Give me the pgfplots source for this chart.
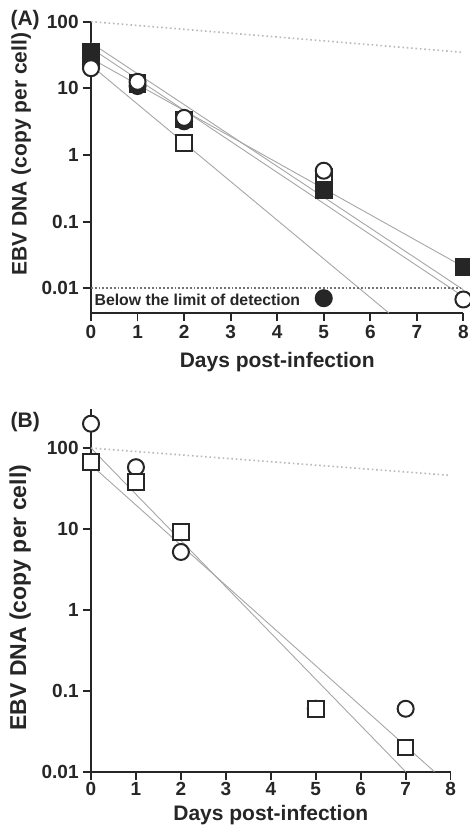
\documentclass[border=0pt]{standalone}
\usepackage{pgfplots}
\pgfplotsset{compat=1.18}
\usepackage{fontspec}
\setmainfont{Liberation Sans}

\pgfplotsset{
  fitl/.style={gray!70, line width=0.45pt, no marks},
  dotl/.style={gray!55, line width=0.8pt, dash pattern=on 0.8pt off 1.4pt, no marks},
  lodl/.style={black!55, line width=1pt, dash pattern=on 0.9pt off 1pt, no marks},
  osq/.style={only marks, mark=square*, mark size=3.9pt, mark options={draw=black!85, fill=white, line width=1pt}},
  fsq/.style={only marks, mark=square*, mark size=3.9pt, mark options={draw=black!85, fill=black!85, line width=1pt}},
  ocir/.style={only marks, mark=*, mark size=4.0pt, mark options={draw=black!85, fill=white, line width=1pt}},
  fcir/.style={only marks, mark=*, mark size=4.0pt, mark options={draw=black!85, fill=black!85, line width=1pt}},
}

\begin{document}
\begin{tikzpicture}[x=1pt,y=1pt]
\path[use as bounding box] (0,0) rectangle (235,-412.5);

% panel A
\begin{axis}[ymode=log, scale only axis, clip mode=individual,
  at={(45.5pt,-156.5pt)}, anchor=south west,
  width=186.2pt, height=145.7pt, ymin=0.00426, ymax=100,
  axis x line*=bottom, axis y line*=left,
  axis line style={line width=1.1pt, black!85},
  tick style={line width=0.9pt, black!85},
  tick align=outside, major tick length=4.2pt,
  xmin=0, xmax=8, xtick={0,...,8}, xticklabels={0,1,2,3,4,5,6,7,8},
  ytick={0.01,0.1,1,10,100}, yticklabels={0.01,0.1,1,10,100},
  yminorticks=false,
  tick label style={font=\fontsize{9.5}{10}\selectfont\bfseries, text=black!85},
  yticklabel style={inner sep=1.8pt},
  xticklabel style={inner sep=1.8pt},
  xlabel style={font=\fontsize{10.5}{12}\selectfont\bfseries, text=black!85,
    at={(axis description cs:0.5,0)}, anchor=base, yshift=-27pt},
  ylabel style={font=\fontsize{10.5}{12}\selectfont\bfseries, text=black!85, at={(ticklabel cs:0.545)}},
  xlabel={Days post-infection},
  ylabel={EBV DNA (copy per cell)}]
\addplot[fitl] coordinates {(0,28) (8,0.021)};
\addplot[fitl] coordinates {(0,48) (8,0.0095)};
\addplot[fitl] coordinates {(0,40) (8,0.0075)};
\addplot[fitl] coordinates {(0,22) (6.4,0.00426)};
\addplot[dotl] coordinates {(0,100) (8,34.5)};
\addplot[lodl] coordinates {(0,0.01) (8,0.01)};
\addplot[osq] coordinates {(0,28) (1,12) (2,1.5) (5,0.47)};
\addplot[fsq] coordinates {(0,35) (1,11.5) (2,3.4) (5,0.30) (8,0.021)};
\addplot[fcir] coordinates {(0,23) (1,10.8) (2,3.2) (5,0.0071)};
\addplot[ocir] coordinates {(0,20) (1,12.5) (2,3.6) (5,0.58) (8,0.0068)};
\node[anchor=west, font=\fontsize{7.9}{9}\selectfont\bfseries, text=black!85, inner sep=0pt]
  at (axis cs:0.07,0.0068) {Below the limit of detection};
\node[font=\fontsize{10.5}{11}\selectfont\bfseries, text=black!85] at (rel axis cs:-0.177,1.005) {(A)};
\end{axis}

% panel B
\begin{axis}[ymode=log, scale only axis,
  at={(45.5pt,-385.85pt)}, anchor=south west,
  width=179.8pt, height=174pt, ymin=0.01, ymax=200, clip=false,
  axis x line*=bottom, axis y line*=left,
  axis line style={line width=1.1pt, black!85},
  tick style={line width=0.9pt, black!85},
  tick align=outside, major tick length=4.2pt,
  xmin=0, xmax=8, xtick={0,...,8}, xticklabels={0,1,2,3,4,5,6,7,8},
  ytick={0.01,0.1,1,10,100}, yticklabels={0.01,0.1,1,10,100},
  yminorticks=false,
  tick label style={font=\fontsize{9.5}{10}\selectfont\bfseries, text=black!85},
  yticklabel style={inner sep=1.8pt},
  xticklabel style={inner sep=1pt},
  xlabel style={font=\fontsize{10.5}{12}\selectfont\bfseries, text=black!85,
    at={(axis description cs:0.5,0)}, anchor=base, yshift=-24.5pt},
  ylabel style={font=\fontsize{11.5}{12}\selectfont\bfseries, text=black!85},
  xlabel={Days post-infection},
  ylabel={EBV DNA (copy per cell)}]
\addplot[fitl] coordinates {(0,100) (7.0,0.01)};
\addplot[fitl] coordinates {(0,62) (7.64,0.01)};
\addplot[dotl] coordinates {(0,100) (8,46)};
\addplot[black!85, line width=1pt, no marks] coordinates {(0,200) (0,300)};
\addplot[ocir] coordinates {(0,200) (1,58) (2,5.2) (5,0.06) (7,0.06)};
\addplot[osq] coordinates {(0,67) (1,38) (2,9.2) (5,0.06) (7,0.02)};
\node[font=\fontsize{10.5}{11}\selectfont\bfseries, text=black!85] at (rel axis cs:-0.183,1.004) {(B)};
\end{axis}
\end{tikzpicture}
\end{document}
